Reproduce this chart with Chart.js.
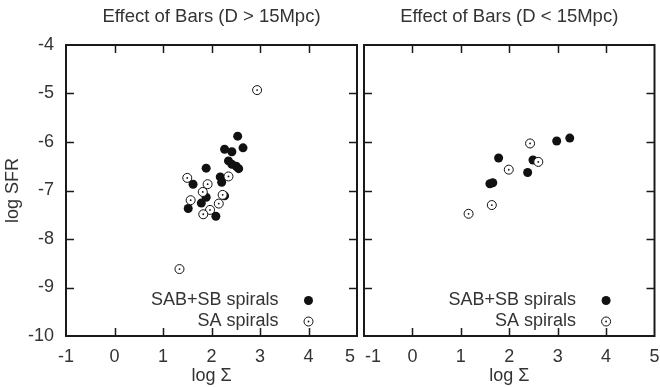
<!DOCTYPE html>
<html><head><meta charset="utf-8">
<script src="https://cdn.jsdelivr.net/npm/chart.js@4/dist/chart.umd.min.js"></script>
<style>
html,body{margin:0;padding:0;background:#fff;}
#wrap{position:relative;width:660px;height:387px;overflow:hidden;}
canvas{position:absolute;left:0;top:0;}
</style></head><body>
<div id="wrap"><canvas id="c1" width="660" height="387"></canvas><canvas id="c2" width="660" height="387"></canvas></div>
<script>
// ---- data ----
const xTicks = [-1, 0, 1, 2, 3, 4, 5];
const yTicks = [-10, -9, -8, -7, -6, -5, -4];
const seriesNames = ['SAB+SB spirals', 'SA spirals'];
const panelTitles = ['Effect of Bars (D > 15Mpc)', 'Effect of Bars (D < 15Mpc)'];
const xAxisTitle = 'log \u03A3';
const yAxisTitle = 'log SFR';

// left panel (D > 15 Mpc)
const farBarredX = [2.54, 2.65, 2.27, 2.42, 2.35, 2.42, 2.51, 2.56, 1.89, 2.18, 2.21, 1.62, 2.27, 1.89, 1.79, 1.52, 2.09];
const farBarredY = [-5.88, -6.12, -6.15, -6.20, -6.39, -6.46, -6.50, -6.55, -6.54, -6.72, -6.83, -6.87, -7.11, -7.14, -7.26, -7.37, -7.53];
const farUnbarredX = [2.94, 1.34, 1.50, 1.92, 1.82, 2.35, 1.57, 2.23, 2.15, 1.97, 1.83];
const farUnbarredY = [-4.93, -8.62, -6.74, -6.87, -7.03, -6.71, -7.20, -7.09, -7.27, -7.40, -7.49];

// right panel (D < 15 Mpc)
const nearBarredX = [3.25, 2.98, 1.78, 2.49, 2.38, 1.60, 1.66];
const nearBarredY = [-5.92, -5.98, -6.33, -6.37, -6.63, -6.86, -6.84];
const nearUnbarredX = [2.43, 2.60, 1.99, 1.64, 1.16];
const nearUnbarredY = [-6.03, -6.41, -6.57, -7.30, -7.48];

// ---- styling ----
const FONT = "'Liberation Sans', Arial, sans-serif";
const TEXT = '#333';
const INK = '#111';
const PT_R = 4.5;
const FS = 18;

function toPoints(xs, ys) { return xs.map((x, i) => ({ x: x, y: ys[i] })); }

function drawDot(ctx, x, y) {
  ctx.fillStyle = INK;
  ctx.beginPath(); ctx.arc(x, y, 0.9, 0, Math.PI * 2); ctx.fill();
}

// outermost x tick labels are set inward so the two panels' labels do not collide
const nudgePlugin = {
  id: 'nudge',
  afterDraw(chart, args, opts) {
    const s = chart.scales.x;
    const items = s.getLabelItems(chart.chartArea);
    if (!items || !items.length) return;
    const ctx = chart.ctx;
    const pick = [];
    if (opts.first) pick.push([items[0], opts.first]);
    if (opts.last) pick.push([items[items.length - 1], opts.last]);
    ctx.save();
    pick.forEach(([it, dx]) => {
      const o = it.options;
      ctx.font = it.font.string;
      ctx.fillStyle = TEXT;
      ctx.textAlign = 'center';
      ctx.textBaseline = o.textBaseline;
      ctx.fillText(it.label, o.translation[0] + dx, o.translation[1] + it.textOffset);
    });
    ctx.restore();
  }
};

const framePlugin = {
  id: 'frame',
  afterDatasetsDraw(chart) {
    const a = chart.chartArea, ctx = chart.ctx;
    const xs = chart.scales.x, ys = chart.scales.y;
    ctx.save();
    chart.getDatasetMeta(1).data.forEach(el => drawDot(ctx, el.x, el.y));
    ctx.strokeStyle = '#1a1a1a';
    ctx.lineWidth = 1.5;
    const TL = 8;
    ctx.beginPath();
    xTicks.slice(1, -1).forEach(v => {
      const px = Math.round(xs.getPixelForValue(v)) + 0.5;
      ctx.moveTo(px, a.bottom); ctx.lineTo(px, a.bottom - TL);
      ctx.moveTo(px, a.top); ctx.lineTo(px, a.top + TL);
    });
    yTicks.slice(1, -1).forEach(v => {
      const py = Math.round(ys.getPixelForValue(v)) + 0.5;
      ctx.moveTo(a.left, py); ctx.lineTo(a.left + TL, py);
      ctx.moveTo(a.right, py); ctx.lineTo(a.right - TL, py);
    });
    ctx.stroke();
    ctx.lineWidth = 2;
    ctx.strokeRect(a.left, a.top, a.right - a.left, a.bottom - a.top);
    ctx.restore();
  }
};

const keyPlugin = {
  id: 'key',
  afterDraw(chart) {
    const a = chart.chartArea, ctx = chart.ctx;
    const mx = chart.scales.x.getPixelForValue(4);
    const rows = [a.bottom - 35.5, a.bottom - 14.5];
    ctx.save();
    ctx.font = FS + 'px ' + FONT;
    ctx.textAlign = 'right';
    ctx.textBaseline = 'middle';
    chart.data.datasets.forEach((ds, i) => {
      ctx.fillStyle = TEXT;
      ctx.fillText(ds.label, mx - 30, rows[i]);
      ctx.beginPath(); ctx.arc(mx, rows[i], PT_R, 0, Math.PI * 2);
      if (i === 0) { ctx.fillStyle = INK; ctx.fill(); }
      else { ctx.fillStyle = '#fff'; ctx.fill(); ctx.strokeStyle = INK; ctx.lineWidth = 1; ctx.stroke(); drawDot(ctx, mx, rows[i]); }
    });
    ctx.restore();
  }
};

function makePanel(id, idx, bx, by, ux, uy, padLeft, padRight, showY, nudge, hideFn) {
  return new Chart(document.getElementById(id), {
    type: 'scatter',
    data: {
      datasets: [
        { label: seriesNames[0], data: toPoints(bx, by), backgroundColor: INK, borderColor: INK,
          pointRadius: PT_R, pointHoverRadius: PT_R, pointBorderWidth: 0, order: 1 },
        { label: seriesNames[1], data: toPoints(ux, uy), backgroundColor: '#fff', borderColor: INK,
          pointRadius: PT_R, pointHoverRadius: PT_R, pointBorderWidth: 1, order: 0 }
      ]
    },
    options: {
      responsive: false,
      animation: false,
      devicePixelRatio: 1,
      layout: { padding: { left: padLeft, right: padRight, top: 0, bottom: 0 } },
      plugins: { legend: { display: false }, tooltip: { enabled: false }, title: { display: false }, nudge: nudge },
      scales: {
        x: {
          type: 'linear', position: 'bottom', min: -1, max: 5,
          afterBuildTicks: s => { s.ticks = xTicks.map(v => ({ value: v })); },
          ticks: { color: hideFn, font: { family: FONT, size: FS }, padding: 10, maxRotation: 0, autoSkip: false },
          grid: { display: false, drawTicks: false },
          border: { display: false },
          title: { display: true, text: xAxisTitle, color: TEXT, font: { family: FONT, size: FS }, padding: { top: 0, bottom: 0 } },
          afterFit: s => { s.height = 51; s.paddingLeft = 0; s.paddingRight = 0; }
        },
        x2: {
          type: 'linear', position: 'top', min: -1, max: 5,
          ticks: { display: false },
          grid: { display: false, drawTicks: false },
          border: { display: false },
          title: { display: true, text: panelTitles[idx], color: TEXT, font: { family: FONT, size: 18.5 }, padding: { top: 6, bottom: 0 } },
          afterFit: s => { s.height = 45; s.paddingLeft = 0; s.paddingRight = 0; }
        },
        y: {
          type: 'linear', position: 'left', min: -10, max: -4, display: showY,
          afterBuildTicks: s => { s.ticks = yTicks.map(v => ({ value: v })); },
          ticks: { color: TEXT, font: { family: FONT, size: FS }, padding: 12, autoSkip: false },
          grid: { display: false, drawTicks: false },
          border: { display: false },
          title: { display: true, text: yAxisTitle, color: TEXT, font: { family: FONT, size: FS }, padding: { top: 2, bottom: 0 } },
          afterFit: s => { s.width = showY ? 66 : 0; s.paddingTop = 0; s.paddingBottom = 0; }
        }
      }
    },
    plugins: [nudgePlugin, framePlugin, keyPlugin]
  });
}

// the nudged edge label is drawn by the plugin, so the default one is made transparent
const leftColor = c => (c.index === xTicks.length - 1 ? 'rgba(0,0,0,0)' : TEXT);
const rightColor = c => (c.index === 0 ? 'rgba(0,0,0,0)' : TEXT);

makePanel('c1', 0, farBarredX, farBarredY, farUnbarredX, farUnbarredY, 0, 303, true, { last: -7 }, leftColor);
makePanel('c2', 1, nearBarredX, nearBarredY, nearUnbarredX, nearUnbarredY, 364, 4, false, { first: 9 }, rightColor);
</script>
</body></html>
